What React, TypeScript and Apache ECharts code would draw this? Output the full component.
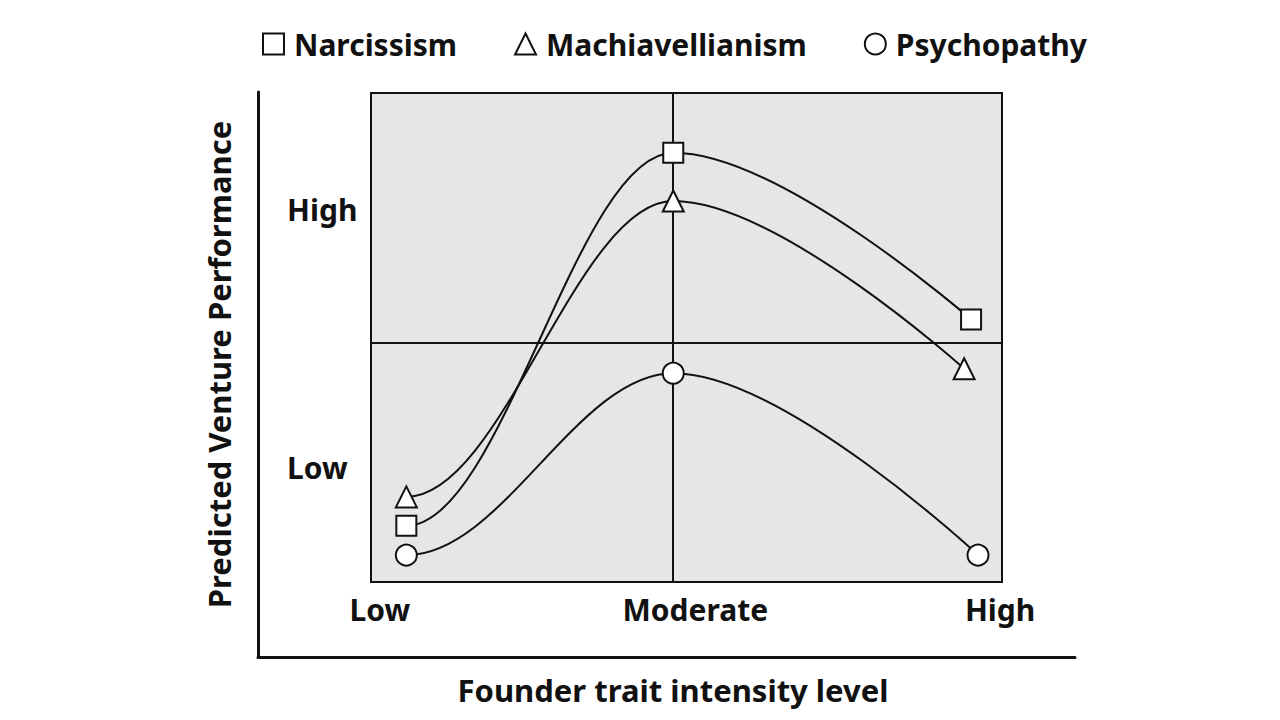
import { useEffect, useRef } from 'react'
import * as echarts from 'echarts'

const seriesNames = ['Narcissism', 'Machiavellianism', 'Psychopathy']
const seriesSymbols = ['rect', 'triangle', 'circle']
const seriesSymbolSizes = [20, 21, 21]

const narcissismX = [5.6, 47.9, 95.1]
const narcissismY = [11.5, 87.8, 53.7]
const machiavellianismX = [5.6, 47.9, 94.0]
const machiavellianismY = [17.4, 77.9, 43.6]
const psychopathyX = [5.6, 47.9, 96.2]
const psychopathyY = [5.5, 42.7, 5.5]

const xTickLabels = ['Low', 'Moderate', 'High']
const xTickValues = [1.4, 51.4, 99.7]
const yTickLabels = ['Low', 'High']
const yTickValues = [23.5, 76.1]

const quadrantX = 47.9
const quadrantY = 48.9

const FONT = "'Noto Sans', sans-serif"
const INK = '#111111'
// share of each segment's width used for its horizontal curve handles
const HANDLE = 0.36

export default function App() {
  const chartRef = useRef<HTMLDivElement | null>(null)

  useEffect(() => {
    if (!chartRef.current) {
      return
    }

    const chart = echarts.init(chartRef.current, null, { renderer: 'svg' })

    const xs = [narcissismX, machiavellianismX, psychopathyX]
    const ys = [narcissismY, machiavellianismY, psychopathyY]

    // one curve from each point to the next; the last point is reached straight on
    const curveSeries = seriesNames.map((_, i) => ({
      type: 'custom',
      xAxisIndex: 0,
      yAxisIndex: 0,
      silent: true,
      z: 3,
      data: xs[i].map((x, j) => [x, ys[i][j]]),
      renderItem: (params: any, api: any) => {
        const j = params.dataIndex
        const last = xs[i].length - 1
        if (j >= last) {
          return null
        }
        const a = api.coord([xs[i][j], ys[i][j]])
        const b = api.coord([xs[i][j + 1], ys[i][j + 1]])
        const h = (b[0] - a[0]) * HANDLE
        const hEnd = j + 1 === last ? 0 : h
        return {
          type: 'bezierCurve',
          shape: {
            x1: a[0],
            y1: a[1],
            cpx1: a[0] + h,
            cpy1: a[1],
            cpx2: b[0] - hEnd,
            cpy2: b[1],
            x2: b[0],
            y2: b[1],
          },
          style: { stroke: INK, lineWidth: 2, fill: 'none' },
        }
      },
    }))

    const markerSeries = seriesNames.map((name, i) => ({
      name,
      type: 'scatter',
      xAxisIndex: 0,
      yAxisIndex: 0,
      symbol: seriesSymbols[i],
      symbolSize: seriesSymbolSizes[i],
      z: 5,
      itemStyle: { color: '#ffffff', borderColor: INK, borderWidth: 2, opacity: 1 },
      data: xs[i].map((x, j) => [x, ys[i][j]]),
    }))

    chart.setOption({
      animation: false,
      textStyle: { fontFamily: FONT },
      legend: {
        left: 257,
        top: 24,
        itemWidth: 21,
        itemHeight: 21,
        itemGap: 57,
        data: seriesNames.map((name, i) => ({ name, icon: seriesSymbols[i] })),
        itemStyle: { color: '#ffffff', borderColor: INK, borderWidth: 2 },
        textStyle: {
          fontFamily: FONT,
          fontWeight: 'bold',
          fontSize: 30,
          color: INK,
          padding: [0, 0, 0, 5],
        },
      },
      grid: [
        {
          left: 371,
          top: 93,
          width: 631,
          height: 489,
          show: true,
          backgroundColor: '#e6e6e6',
          borderColor: INK,
          borderWidth: 2,
        },
        {
          left: 258,
          top: 92,
          width: 817,
          height: 565,
          show: false,
        },
      ],
      xAxis: [
        {
          type: 'value',
          gridIndex: 0,
          min: 0,
          max: 100,
          axisLine: { show: false },
          axisTick: { show: false },
          splitLine: { show: false },
          axisLabel: {
            customValues: xTickValues,
            margin: 12,
            fontFamily: FONT,
            fontWeight: 'bold',
            fontSize: 30,
            color: INK,
            formatter: (v: number) => xTickLabels[xTickValues.indexOf(v)] ?? '',
          },
        },
        {
          type: 'value',
          gridIndex: 1,
          min: 0,
          max: 100,
          axisLine: { show: true, onZero: false, lineStyle: { color: INK, width: 3 } },
          axisTick: { show: false },
          splitLine: { show: false },
          axisLabel: { show: false },
          name: 'Founder trait intensity level',
          nameLocation: 'middle',
          nameGap: 17,
          nameTextStyle: {
            fontFamily: FONT,
            fontWeight: 'bold',
            fontSize: 31,
            color: INK,
            padding: [0, 0, 0, 13],
          },
        },
      ],
      yAxis: [
        {
          type: 'value',
          gridIndex: 0,
          min: 0,
          max: 100,
          axisLine: { show: false },
          axisTick: { show: false },
          splitLine: { show: false },
          axisLabel: {
            customValues: yTickValues,
            align: 'left',
            margin: 84,
            fontFamily: FONT,
            fontWeight: 'bold',
            fontSize: 30,
            color: INK,
            formatter: (v: number) => yTickLabels[yTickValues.indexOf(v)] ?? '',
          },
        },
        {
          type: 'value',
          gridIndex: 1,
          min: 0,
          max: 100,
          axisLine: { show: true, onZero: false, lineStyle: { color: INK, width: 3 } },
          axisTick: { show: false },
          splitLine: { show: false },
          axisLabel: { show: false },
          name: 'Predicted Venture Performance',
          nameLocation: 'middle',
          nameGap: 24,
          nameTextStyle: {
            fontFamily: FONT,
            fontWeight: 'bold',
            fontSize: 31,
            color: INK,
            padding: [0, 0, 0, 20],
          },
        },
      ],
      series: [
        {
          type: 'line',
          xAxisIndex: 0,
          yAxisIndex: 0,
          data: [],
          z: 1,
          silent: true,
          markLine: {
            silent: true,
            symbol: 'none',
            animation: false,
            label: { show: false },
            lineStyle: { color: INK, width: 2, type: 'solid' },
            data: [{ xAxis: quadrantX }, { yAxis: quadrantY }],
          },
        },
        ...curveSeries,
        ...markerSeries,
      ],
    })

    const resize = () => chart.resize()
    window.addEventListener('resize', resize)
    return () => {
      window.removeEventListener('resize', resize)
      chart.dispose()
    }
  }, [])

  return (
    <div
      ref={chartRef}
      style={{ position: 'fixed', left: 0, top: 0, width: 1280, height: 720, background: '#ffffff' }}
    />
  )
}
